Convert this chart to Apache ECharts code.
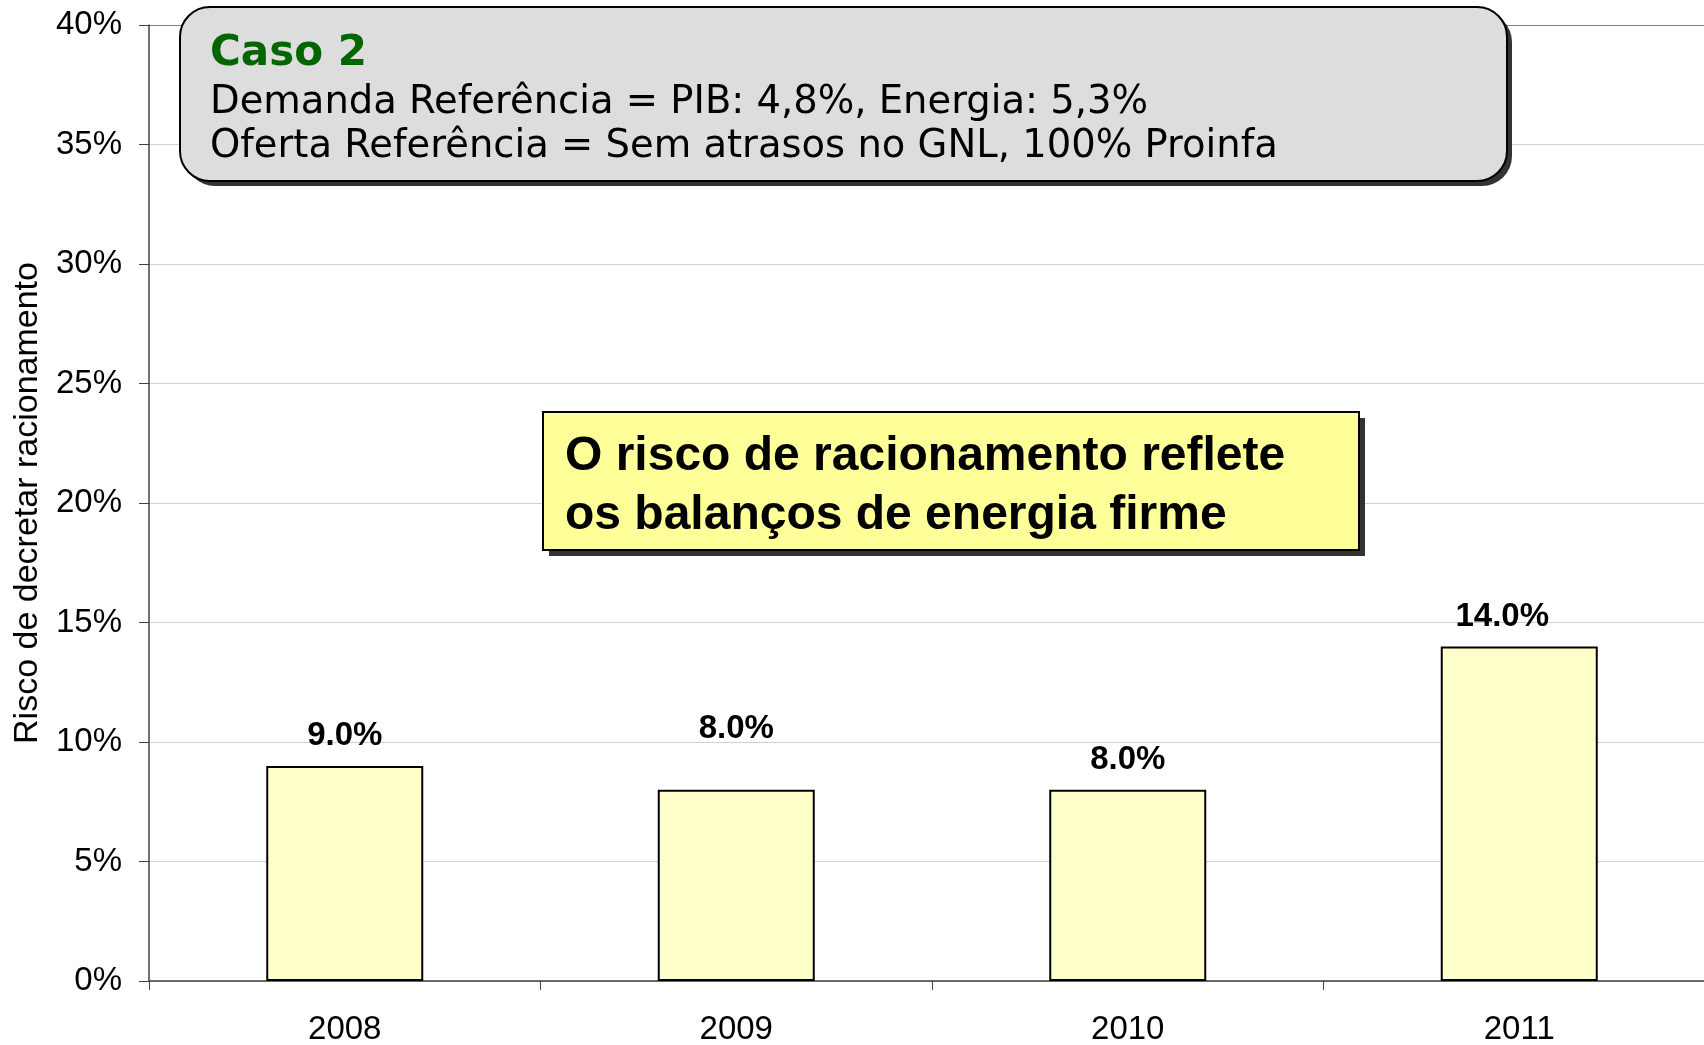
<!DOCTYPE html>
<html>
<head>
<meta charset="utf-8">
<script src="https://cdn.jsdelivr.net/npm/echarts@6/dist/echarts.min.js"></script>
<style>
html,body{margin:0;padding:0;background:#fff;}
#chart{width:1704px;height:1045px;}
</style>
</head>
<body>
<div id="chart"></div>
<script>
// ---- data ----
const categories = ['2008', '2009', '2010', '2011'];
const riskValues = [9.0, 8.0, 8.0, 14.0];
const yAxisName = 'Risco de decretar racionamento';
const caseTitle = 'Caso 2';
const caseLines = [
  'Demanda Referência = PIB: 4,8%, Energia: 5,3%',
  'Oferta Referência = Sem atrasos no GNL, 100% Proinfa'
];
const noteLines = [
  'O risco de racionamento reflete',
  'os balanços de energia firme'
];

// ---- chart ----
const chart = echarts.init(document.getElementById('chart'), null, {renderer: 'canvas'});
const sans = '"Liberation Sans", Arial, sans-serif';
const verd = '"DejaVu Sans", Verdana, sans-serif';

// label nudges as placed in the original slide
const labelNudge = {1: [0, -31], 3: [-17, 0]};
const barData = riskValues.map((v, i) =>
  labelNudge[i] ? {value: v, label: {offset: labelNudge[i]}} : v);

const splitColors = ['#d0d0d0','#d0d0d0','#d0d0d0','#d0d0d0','#d0d0d0','#d0d0d0','#d0d0d0','#d0d0d0','#808080'];

const option = {
  animation: false,
  backgroundColor: '#ffffff',
  grid: {left: 149, top: 25, bottom: 64, right: -11, containLabel: false, outerBoundsMode: 'none'},
  xAxis: {
    type: 'category',
    data: categories,
    boundaryGap: true,
    axisLine: {show: true, lineStyle: {color: '#404040', width: 1.5}},
    axisTick: {show: true, length: 9, alignWithLabel: false, lineStyle: {color: '#404040', width: 1}},
    axisLabel: {color: '#000', fontFamily: sans, fontSize: 33, margin: 32},
    splitLine: {show: false}
  },
  yAxis: {
    type: 'value',
    min: 0, max: 40, interval: 5,
    name: yAxisName,
    nameLocation: 'middle',
    nameGap: 104,
    nameTextStyle: {color: '#000', fontFamily: sans, fontSize: 34},
    axisLine: {show: true, lineStyle: {color: '#404040', width: 1.5}},
    axisTick: {show: true, length: 10, lineStyle: {color: '#404040', width: 1}},
    axisLabel: {color: '#000', fontFamily: sans, fontSize: 33, margin: 27,
                formatter: v => v + '%'},
    splitLine: {show: true, lineStyle: {color: splitColors, width: 1}}
  },
  series: [{
    type: 'bar',
    data: barData,
    barWidth: 157,
    itemStyle: {color: '#FFFFCC', borderColor: '#000', borderWidth: 2},
    label: {
      show: true, position: 'top', distance: 13,
      color: '#000', fontFamily: sans, fontWeight: 'bold', fontSize: 33,
      formatter: p => p.value.toFixed(1) + '%'
    }
  }],
  graphic: [
    {type: 'rect', z: 100, shape: {x: 185, y: 12, width: 1327, height: 174, r: 30},
     style: {fill: '#333333'}},
    {type: 'rect', z: 101, shape: {x: 180, y: 7, width: 1327, height: 174, r: 30},
     style: {fill: '#DDDDDD', stroke: '#000', lineWidth: 2}},
    {type: 'text', z: 102, x: 210, y: 54,
     style: {text: caseTitle, font: 'bold 42px ' + verd, fill: '#006600', verticalAlign: 'middle', align: 'left'}},
    {type: 'text', z: 102, x: 210, y: 103,
     style: {text: caseLines[0], font: '38.5px ' + verd, fill: '#000', verticalAlign: 'middle', align: 'left'}},
    {type: 'text', z: 102, x: 210, y: 147,
     style: {text: caseLines[1], font: '38.5px ' + verd, fill: '#000', verticalAlign: 'middle', align: 'left'}},
    {type: 'rect', z: 100, shape: {x: 549, y: 418, width: 816, height: 138},
     style: {fill: '#333333'}},
    {type: 'rect', z: 101, shape: {x: 543, y: 412, width: 816, height: 138},
     style: {fill: '#FFFF99', stroke: '#000', lineWidth: 2}},
    {type: 'text', z: 102, x: 565, y: 457,
     style: {text: noteLines[0], font: 'bold 48px ' + sans, fill: '#000', verticalAlign: 'middle', align: 'left'}},
    {type: 'text', z: 102, x: 565, y: 516,
     style: {text: noteLines[1], font: 'bold 48px ' + sans, fill: '#000', verticalAlign: 'middle', align: 'left'}}
  ]
};
chart.setOption(option);
</script>
</body>
</html>
